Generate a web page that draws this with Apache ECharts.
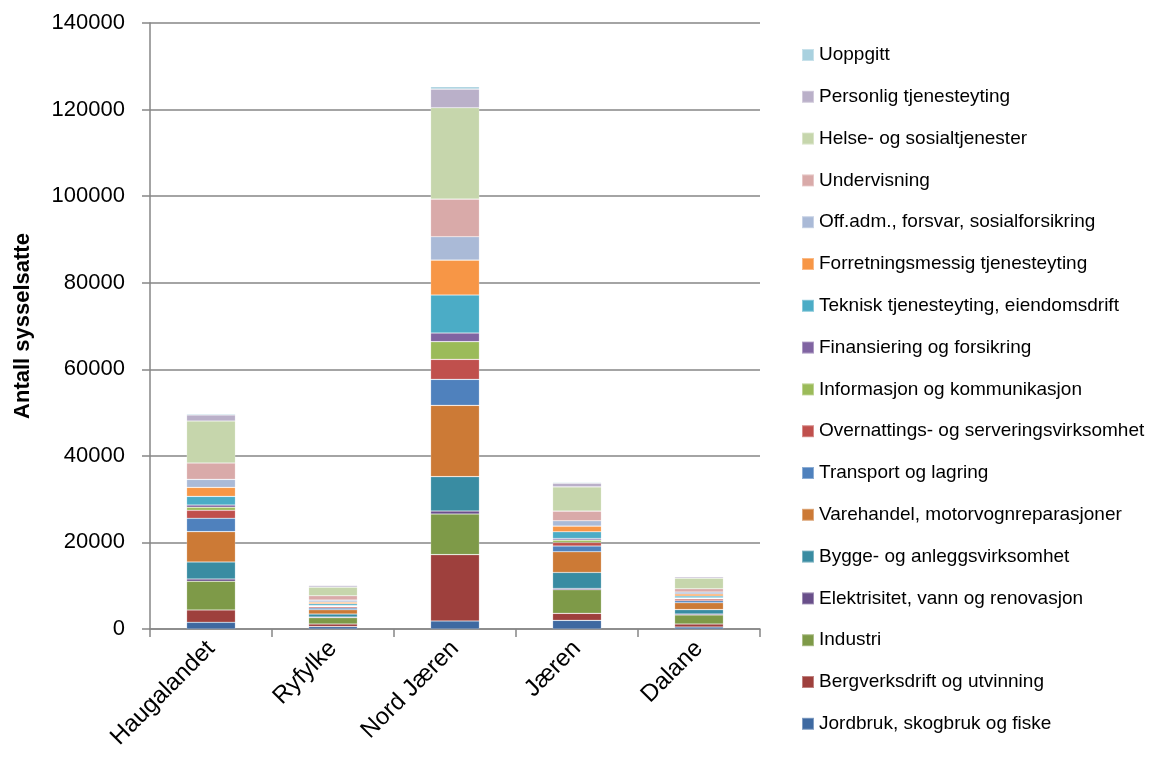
<!DOCTYPE html>
<html>
<head>
<meta charset="utf-8">
<script src="https://cdn.jsdelivr.net/npm/echarts@6/dist/echarts.min.js"></script>
<style>
html,body{margin:0;padding:0;background:#fff;}
#chart{width:1157px;height:757px;}
</style>
</head>
<body>
<div id="chart"></div>
<script>
const categories = ['Haugalandet', 'Ryfylke', 'Nord Jæren', 'Jæren', 'Dalane'];

const seriesNames = [
  'Jordbruk, skogbruk og fiske',
  'Bergverksdrift og utvinning',
  'Industri',
  'Elektrisitet, vann og renovasjon',
  'Bygge- og anleggsvirksomhet',
  'Varehandel, motorvognreparasjoner',
  'Transport og lagring',
  'Overnattings- og serveringsvirksomhet',
  'Informasjon og kommunikasjon',
  'Finansiering og forsikring',
  'Teknisk tjenesteyting, eiendomsdrift',
  'Forretningsmessig tjenesteyting',
  'Off.adm., forsvar, sosialforsikring',
  'Undervisning',
  'Helse- og sosialtjenester',
  'Personlig tjenesteyting',
  'Uoppgitt'
];

const jordbruk      = [1550, 540, 1850, 2000, 460];
const bergverk      = [2850, 620, 15330, 1620, 690];
const industri      = [6630, 1450, 9380, 5450, 2100];
const elektrisitet  = [530, 150, 690, 300, 230];
const bygge         = [3930, 690, 7950, 3700, 1000];
const varehandel    = [7000, 1000, 16470, 4780, 1600];
const transport     = [3080, 390, 6000, 1310, 460];
const overnatting   = [1850, 300, 4620, 830, 390];
const informasjon   = [690, 150, 4090, 550, 150];
const finansiering  = [530, 150, 1990, 370, 150];
const teknisk       = [2000, 390, 8780, 1550, 390];
const forretning    = [2080, 390, 8080, 1310, 460];
const offadm        = [1850, 460, 5400, 1230, 460];
const undervisning  = [3770, 1000, 8690, 2240, 770];
const helse         = [9700, 2000, 21110, 5600, 2450];
const personlig     = [1390, 390, 4300, 850, 310];
const uoppgitt      = [230, 100, 550, 230, 100];

const seriesValues = [jordbruk, bergverk, industri, elektrisitet, bygge, varehandel,
  transport, overnatting, informasjon, finansiering, teknisk, forretning, offadm,
  undervisning, helse, personlig, uoppgitt];

const colors = ['#3E69A1', '#9E403D', '#7E9A48', '#694F8A', '#398CA2', '#CC7A36',
  '#4F81BD', '#C0504D', '#9BBB59', '#8064A2', '#4BACC6', '#F79646',
  '#AABAD7', '#D9AAA9', '#C6D6AC', '#BAB0C9', '#A9D1DF'];

const yTicks = { min: 0, max: 140000, interval: 20000 };

const chart = echarts.init(document.getElementById('chart'), null, { renderer: 'canvas' });

const series = seriesNames.map((name, i) => ({
  name: name,
  type: 'bar',
  stack: 'total',
  data: seriesValues[i],
  barWidth: '40%',
  itemStyle: { color: colors[i], borderColor: 'rgba(255,255,255,0.35)', borderWidth: 0.6 },
  emphasis: { disabled: true }
}));

const FONT = '"Liberation Sans", Arial, sans-serif';

chart.setOption({
  animation: false,
  color: colors,
  grid: { left: 150, right: 397, top: 23, bottom: 128, containLabel: false, outerBoundsMode: 'none' },
  legend: {
    orient: 'vertical',
    left: 796,
    top: 40,
    data: seriesNames.slice().reverse(),
    icon: 'rect',
    itemWidth: 12,
    itemHeight: 12,
    itemGap: 21.8,
    textStyle: { fontFamily: FONT, fontSize: 19, color: '#000', lineHeight: 20 },
    selectedMode: false
  },
  xAxis: {
    type: 'category',
    data: categories,
    axisLine: { show: true, lineStyle: { color: '#868686', width: 1.5 } },
    axisTick: { show: true, length: 8, lineStyle: { color: '#868686', width: 1.5 } },
    axisLabel: { rotate: 45, margin: 16, fontFamily: FONT, fontSize: 24, color: '#000' }
  },
  yAxis: {
    type: 'value',
    min: yTicks.min,
    max: yTicks.max,
    interval: yTicks.interval,
    name: 'Antall sysselsatte',
    nameLocation: 'middle',
    nameGap: 116,
    nameTextStyle: { fontFamily: FONT, fontSize: 22, fontWeight: 'bold', color: '#000' },
    axisLine: { show: true, lineStyle: { color: '#868686', width: 1.5 } },
    axisTick: { show: true, inside: false, length: 8, lineStyle: { color: '#868686', width: 1.5 } },
    splitLine: { show: true, lineStyle: { color: '#868686', width: 1.5 } },
    axisLabel: { margin: 25, fontFamily: FONT, fontSize: 22, color: '#000', formatter: v => String(v) }
  },
  series: series
});
</script>
</body>
</html>
